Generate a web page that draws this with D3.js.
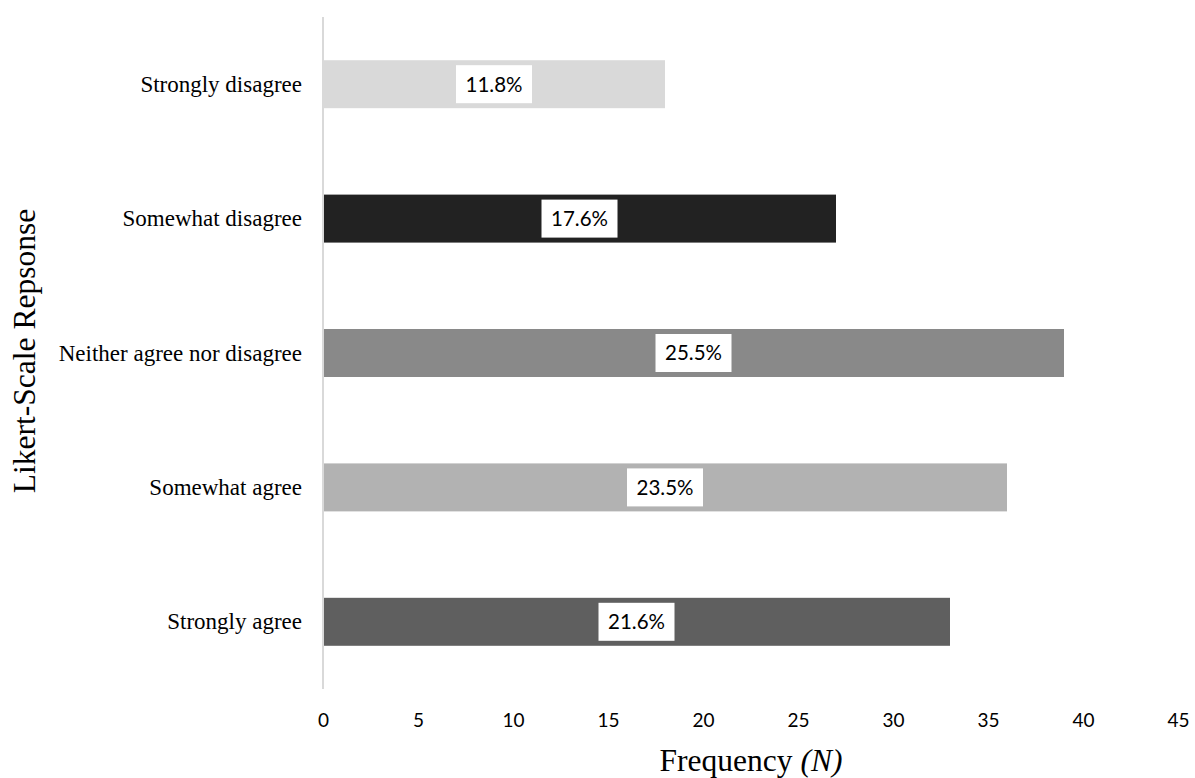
<!DOCTYPE html>
<html>
<head>
<meta charset="utf-8">
<script src="https://cdn.jsdelivr.net/npm/d3@7"></script>
<style>
  html, body { margin: 0; padding: 0; background: #ffffff; }
  svg { display: block; }
</style>
</head>
<body>
<svg id="chart" width="1195" height="778"></svg>
<script>
// Likert responses, top to bottom as drawn
const categories = ["Strongly disagree", "Somewhat disagree", "Neither agree nor disagree", "Somewhat agree", "Strongly agree"];
const frequencies = [18, 27, 39, 36, 33];
const percentLabels = ["11.8%", "17.6%", "25.5%", "23.5%", "21.6%"];
const barColors = ["#d9d9d9", "#222222", "#898989", "#b2b2b2", "#5f5f5f"];
const xTicks = [0, 5, 10, 15, 20, 25, 30, 35, 40, 45];

const svg = d3.select("#chart");
const plotLeft = 323, plotRight = 1178, plotTop = 17, plotBottom = 689;

const x = d3.scaleLinear().domain([0, 45]).range([plotLeft, plotRight]);
const y = d3.scaleBand().domain(categories).range([plotTop, plotBottom]).paddingInner(0.643).paddingOuter(0.3215);

// bars
svg.append("g").selectAll("rect")
  .data(categories)
  .join("rect")
  .attr("x", x(0))
  .attr("y", d => y(d))
  .attr("width", (d, i) => x(frequencies[i]) - x(0))
  .attr("height", y.bandwidth())
  .attr("fill", (d, i) => barColors[i]);

// vertical axis line
svg.append("line")
  .attr("x1", x(0)).attr("x2", x(0))
  .attr("y1", plotTop).attr("y2", plotBottom)
  .attr("stroke", "#d9d9d9").attr("stroke-width", 2);

// category labels
svg.append("g").selectAll("text")
  .data(categories)
  .join("text")
  .attr("x", x(0) - 21)
  .attr("y", d => y(d) + y.bandwidth() / 2)
  .attr("dy", "0.33em")
  .attr("text-anchor", "end")
  .attr("font-family", "'Liberation Serif', 'Times New Roman', serif")
  .attr("font-size", 23)
  .attr("fill", "#000")
  .text(d => d);

// percentage labels in white boxes
const lab = svg.append("g").selectAll("g")
  .data(categories)
  .join("g")
  .attr("transform", (d, i) => `translate(${(x(0) + x(frequencies[i])) / 2},${y(d) + y.bandwidth() / 2})`);
lab.append("rect")
  .attr("x", -38).attr("y", -19)
  .attr("width", 76).attr("height", 38)
  .attr("fill", "#ffffff");
lab.append("text")
  .attr("text-anchor", "middle")
  .attr("dy", "0.36em")
  .attr("font-family", "Lato, 'Open Sans', sans-serif")
  .attr("font-size", 20.5)
  .attr("fill", "#000")
  .text((d, i) => percentLabels[i]);

// x axis tick labels
const xAxis = d3.axisBottom(x).tickValues(xTicks).tickSize(0).tickPadding(0);
const gx = svg.append("g").attr("transform", `translate(0,${plotBottom})`).call(xAxis);
gx.select(".domain").remove();
gx.selectAll("text")
  .attr("y", 31)
  .attr("dy", "0.35em")
  .attr("font-family", "Lato, 'Open Sans', sans-serif")
  .attr("font-size", 19)
  .attr("fill", "#000");

// axis titles
const xt = svg.append("text")
  .attr("x", 751)
  .attr("y", 771)
  .attr("text-anchor", "middle")
  .attr("font-family", "'Liberation Serif', 'Times New Roman', serif")
  .attr("font-size", 31.5)
  .attr("fill", "#000");
xt.append("tspan").text("Frequency ");
xt.append("tspan").attr("font-style", "italic").text("(N)");

svg.append("text")
  .attr("transform", `translate(35,351) rotate(-90)`)
  .attr("text-anchor", "middle")
  .attr("font-family", "'Liberation Serif', 'Times New Roman', serif")
  .attr("font-size", 31.5)
  .attr("fill", "#000")
  .text("Likert-Scale Repsonse");
</script>
</body>
</html>
